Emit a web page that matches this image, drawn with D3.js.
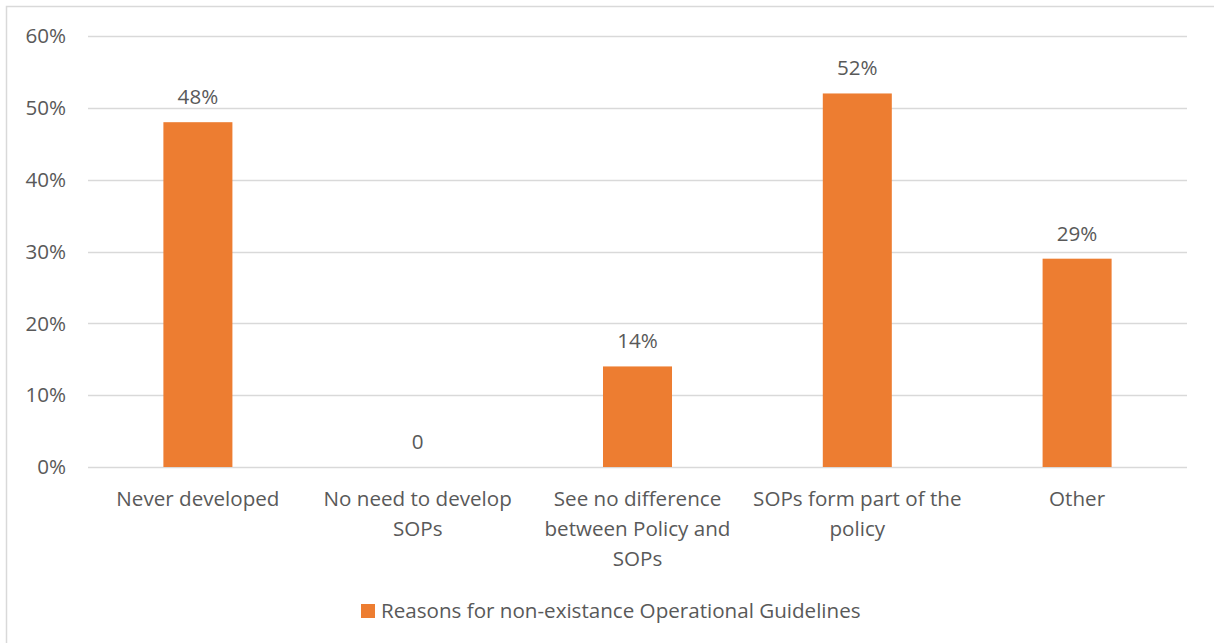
<!DOCTYPE html>
<html>
<head>
<meta charset="utf-8">
<script src="https://cdn.jsdelivr.net/npm/d3@7"></script>
<style>
  html, body { margin: 0; padding: 0; background: #fff; }
  svg { display: block; }
  text { font-family: "Open Sans", "Liberation Sans", sans-serif; fill: #595959; }
</style>
</head>
<body>
<svg id="chart" width="1214" height="643"></svg>
<script>
// Reasons for non-existence of operational guidelines
const categories = [
  ["Never developed"],
  ["No need to develop", "SOPs"],
  ["See no difference", "between Policy and", "SOPs"],
  ["SOPs form part of the", "policy"],
  ["Other"]
];
const values = [0.48, 0, 0.14, 0.52, 0.29];
const valueLabels = ["48%", "0", "14%", "52%", "29%"];
const yTicks = [0, 0.1, 0.2, 0.3, 0.4, 0.5, 0.6];
const seriesName = "Reasons for non-existance Operational Guidelines";

const W = 1214, H = 643;
const FS = "20.6px";
const svg = d3.select("#chart");
const barColor = "#ed7d31";
const gridColor = "#d9d9d9";

// outer frame
svg.append("rect")
  .attr("x", 6.5).attr("y", 6.5)
  .attr("width", W + 10).attr("height", H + 10)
  .attr("fill", "none").attr("stroke", gridColor).attr("stroke-width", 1.5);

const plot = { left: 88, right: 1187, top: 36, bottom: 467 };

const x = d3.scaleBand()
  .domain(d3.range(categories.length))
  .range([plot.left, plot.right])
  .paddingInner(0.686)
  .paddingOuter(0.343);

const y = d3.scaleLinear().domain([0, 0.6]).range([plot.bottom, plot.top]);

// gridlines
svg.append("g").selectAll("line").data(yTicks).join("line")
  .attr("x1", plot.left).attr("x2", plot.right)
  .attr("y1", d => Math.round(y(d)) + 0.5).attr("y2", d => Math.round(y(d)) + 0.5)
  .attr("stroke", gridColor).attr("stroke-width", 1.3);

// y tick labels
svg.append("g").selectAll("text").data(yTicks).join("text")
  .attr("x", 66).attr("y", d => y(d))
  .attr("dy", "0.35em")
  .attr("text-anchor", "end")
  .style("font-size", FS)
  .text(d3.format(".0%"));

// bars
svg.append("g").selectAll("rect").data(values).join("rect")
  .attr("x", (d, i) => x(i))
  .attr("width", x.bandwidth())
  .attr("y", d => y(d))
  .attr("height", d => y(0) - y(d))
  .attr("fill", barColor);

// value labels
svg.append("g").selectAll("text").data(values).join("text")
  .attr("x", (d, i) => x(i) + x.bandwidth() / 2)
  .attr("y", d => y(d) - 18)
  .attr("text-anchor", "middle")
  .style("font-size", FS)
  .text((d, i) => valueLabels[i]);

// category labels
const catG = svg.append("g").selectAll("text").data(categories).join("text")
  .attr("x", (d, i) => x(i) + x.bandwidth() / 2)
  .attr("y", 506)
  .attr("text-anchor", "middle")
  .style("font-size", FS);
catG.selectAll("tspan").data(d => d).join("tspan")
  .attr("x", function () { return d3.select(this.parentNode).attr("x"); })
  .attr("dy", (d, j) => j === 0 ? 0 : 30)
  .text(d => d);

// legend
const legend = svg.append("g");
legend.append("rect")
  .attr("x", 361).attr("y", 604).attr("width", 14).attr("height", 14)
  .attr("fill", barColor);
legend.append("text")
  .attr("x", 381).attr("y", 611).attr("dy", "0.35em")
  .style("font-size", FS)
  .text(seriesName);
</script>
</body>
</html>
